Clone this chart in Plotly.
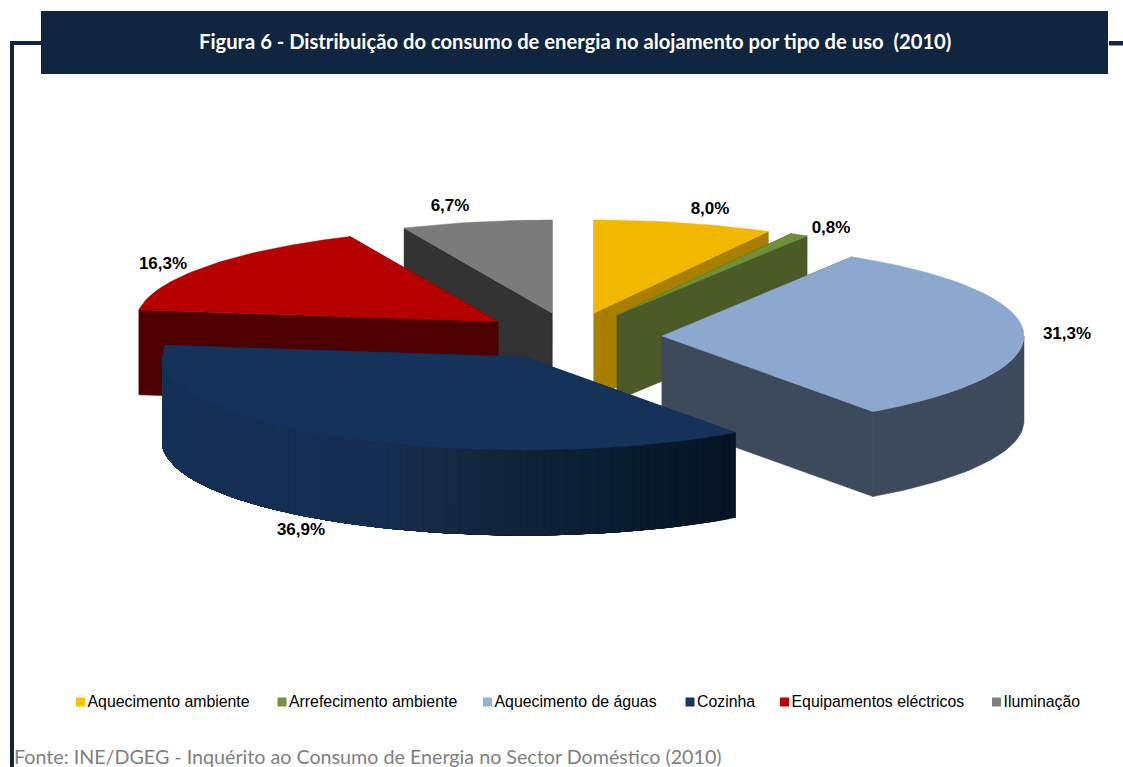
import math
import plotly.graph_objects as go

# ---- data ----
categories = ["Aquecimento ambiente", "Arrefecimento ambiente", "Aquecimento de águas",
              "Cozinha", "Equipamentos eléctricos", "Iluminação"]
values = [8.0, 0.8, 31.3, 36.9, 16.3, 6.7]
value_labels = ["8,0%", "0,8%", "31,3%", "36,9%", "16,3%", "6,7%"]
title_text = "Figura 6 - Distribuição do consumo de energia no alojamento por tipo de uso  (2010)"
source_text = "Fonte: INE/DGEG - Inquérito ao Consumo de Energia no Sector Doméstico (2010)"

# ---- styles and layout (page pixels) ----
top_colors = ["#F2B800", "#6F8F3A", "#8CA8CE", "#14325A", "#B60000", "#7B7B7B"]
wall_colors = ["#A87F00", "#4B5A27", "#3C4A5C", "#14325A", "#4C0000", "#333333"]
legend_colors = ["#FFC000", "#76923C", "#95B3D7", "#17375E", "#C00000", "#7F7F7F"]
apex_x = [594, 617, 662, 524.5, 498, 552]
apex_y = [313, 315, 336, 357, 321.5, 313]
label_x = [710, 831, 1067, 301, 163, 450]
label_y = [210, 229, 335, 531, 265, 207]
legend_marker_x = [80.5, 282, 487.5, 690, 784.5, 996.5]
legend_y = 702
draw_order = [5, 4, 0, 1, 2, 3]
RX, RY, DEPTH = 362, 93, 85
NAVY = "#10253F"

# colour stops along the outer wall of the largest slice, by angle (deg)
navy_stops = [(144.4, (6, 20, 35)), (170, (11, 30, 52)), (193, (23, 41, 67)),
              (205, (20, 46, 82)), (277.2, (20, 50, 88))]


def pt(i, ang, drop=0):
    a = math.radians(ang)
    return apex_x[i] + RX * math.sin(a), apex_y[i] - RY * math.cos(a) + drop


def poly(fig, pts, color):
    xs = [p[0] for p in pts] + [pts[0][0]]
    ys = [p[1] for p in pts] + [pts[0][1]]
    fig.add_trace(go.Scatter(x=xs, y=ys, mode="lines", fill="toself", fillcolor=color,
                             line=dict(color=color, width=0.5), hoverinfo="skip", showlegend=False))


def navy_color(ang):
    for (a0, c0), (a1, c1) in zip(navy_stops, navy_stops[1:]):
        if a0 <= ang <= a1:
            t = (ang - a0) / (a1 - a0)
            return "rgb(%d,%d,%d)" % tuple(round(u + (v - u) * t) for u, v in zip(c0, c1))
    return "rgb(%d,%d,%d)" % navy_stops[-1][1]


def wall_band(fig, i, s0, s1, color):
    n = max(2, int((s1 - s0) / 1.5))
    angs = [s0 + (s1 - s0) * k / n for k in range(n + 1)]
    poly(fig, [pt(i, a) for a in angs] + [pt(i, a, DEPTH) for a in reversed(angs)], color)


fig = go.Figure()

# slice boundaries, clockwise from 12 o'clock
total = sum(values)
edges = [0.0]
for v in values:
    edges.append(edges[-1] + v / total * 360)

for i in draw_order:
    a0, a1 = edges[i], edges[i + 1]
    apex = (apex_x[i], apex_y[i])
    apex_d = (apex_x[i], apex_y[i] + DEPTH)
    # radial faces
    for a in (a0, a1):
        poly(fig, [apex, apex_d, pt(i, a, DEPTH), pt(i, a)], wall_colors[i])
    # outer wall on the front half
    lo, hi = max(a0, 90), min(a1, 270)
    if hi > lo:
        if i == 3:
            # shaded in overlapping bands, painted right to left so no seams show
            n = int((hi - lo) / 1.2)
            for k in range(n):
                s0 = lo + (hi - lo) * k / n
                s1 = lo + (hi - lo) * (k + 1) / n
                wall_band(fig, i, s0, hi, navy_color((s0 + s1) / 2))
        else:
            wall_band(fig, i, lo, hi, wall_colors[i])
    # top face
    n = max(2, int((a1 - a0) / 1.5))
    arc = [pt(i, a0 + (a1 - a0) * k / n) for k in range(n + 1)]
    poly(fig, [apex] + arc, top_colors[i])

# value labels
fig.add_trace(go.Scatter(x=label_x, y=label_y, mode="text", text=value_labels,
                         textposition="middle center",
                         textfont=dict(family="Liberation Sans", size=17, color="#000000", weight="bold"),
                         hoverinfo="skip", showlegend=False))
# legend markers and texts
fig.add_trace(go.Scatter(x=legend_marker_x, y=[legend_y] * 6, mode="markers",
                         marker=dict(symbol="square", size=9, color=legend_colors, line=dict(width=0)),
                         hoverinfo="skip", showlegend=False))
fig.add_trace(go.Scatter(x=[m + 7 for m in legend_marker_x], y=[legend_y + 1] * 6, mode="text",
                         text=categories, textposition="middle right",
                         textfont=dict(family="Liberation Sans", size=15.85, color="#000000"),
                         hoverinfo="skip", showlegend=False))

shapes = [
    dict(type="rect", x0=41, x1=1108, y0=11, y1=74, fillcolor=NAVY, line_width=0, layer="below"),
    dict(type="rect", x0=10, x1=41, y0=41, y1=45, fillcolor=NAVY, line_width=0, layer="below"),
    dict(type="rect", x0=10, x1=14, y0=41, y1=767, fillcolor=NAVY, line_width=0, layer="below"),
    dict(type="rect", x0=1109, x1=1123, y0=41, y1=45.5, fillcolor=NAVY, line_width=0, layer="below"),
]
annotations = [
    dict(x=575, y=41, xref="x", yref="y", text="<b>" + title_text + "</b>", showarrow=False,
         xanchor="center", yanchor="middle",
         font=dict(family="Lato", size=20.2, color="#FFFFFF")),
    dict(x=14, y=756, xref="x", yref="y", text=source_text, showarrow=False,
         xanchor="left", yanchor="middle", xshift=-2,
         font=dict(family="Lato", size=19.7, color="#7F7F7F")),
]

fig.update_layout(
    width=1123, height=767, autosize=False,
    margin=dict(l=0, r=0, t=0, b=0),
    paper_bgcolor="#FFFFFF", plot_bgcolor="#FFFFFF",
    showlegend=False, shapes=shapes, annotations=annotations,
    xaxis=dict(range=[0, 1123], visible=False, fixedrange=True),
    yaxis=dict(range=[767, 0], visible=False, fixedrange=True),
)
fig.write_html("out.html", config=dict(displayModeBar=False),
               post_script="document.body.style.margin='0';document.body.style.overflow='hidden';")
